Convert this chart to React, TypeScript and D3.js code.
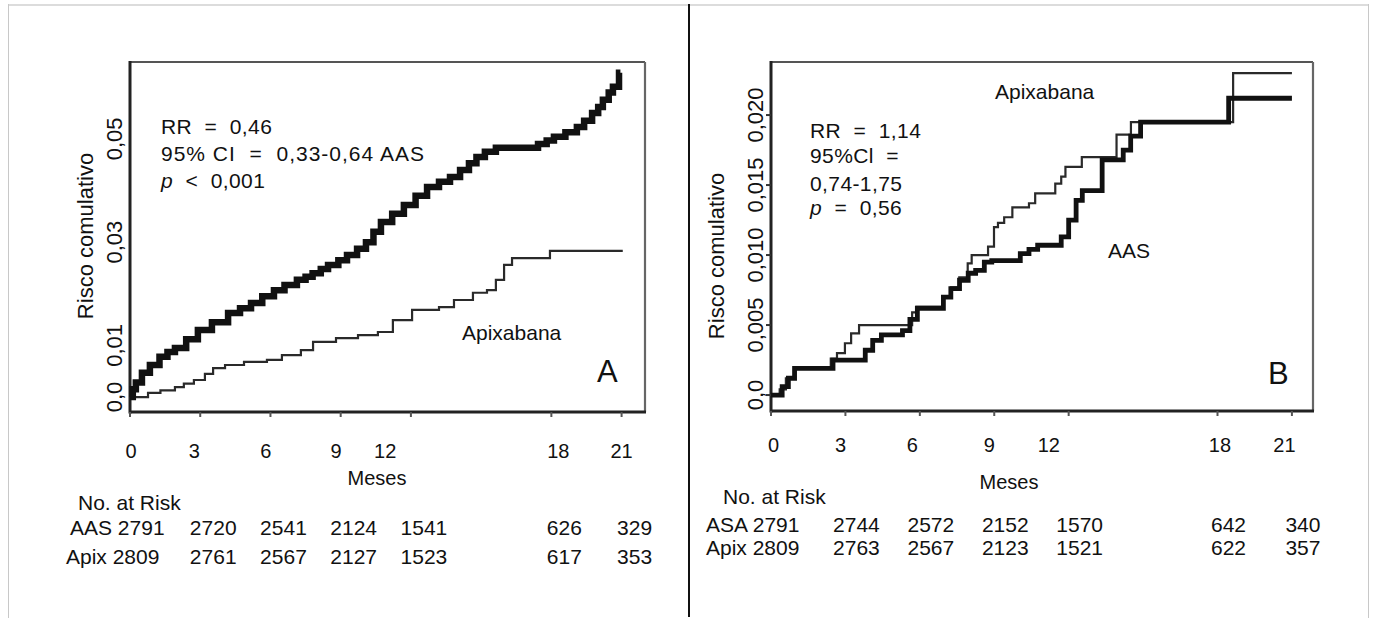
import React from 'react';
import * as d3 from 'd3';

// ---------- Data ----------
const tickMonths = [0, 3, 6, 9, 12, 18, 21];
const tickLabels = ['0', '3', '6', '9', '12', '18', '21'];
// where each month label sits (months)
const tickLabelAtA = [0.05, 2.75, 5.8, 8.8, 10.9, 18.3, 21.0];
const tickLabelAtB = [0.1, 2.8, 5.7, 8.8, 11.2, 18.1, 20.7];

const yTicksA = [0, 0.01, 0.03, 0.05];
const yTickLabelsA = ['0,0', '0,01', '0,03', '0,05'];
const yTicksB = [0, 0.005, 0.01, 0.015, 0.02];
const yTickLabelsB = ['0,0', '0,005', '0,010', '0,015', '0,020'];

// Panel A — AAS (thick)
const aasMonthsA = [0, 0.12, 0.25, 0.51, 0.85, 1.26, 1.6, 1.92, 2.4, 2.9, 3.5, 4.19, 4.7, 5.17, 5.65, 6.15, 6.6, 7.13, 7.5, 7.8, 8.15, 8.46, 8.9, 9.27, 9.7, 10.08, 10.4, 10.72, 11.2, 11.7, 12.2, 12.69, 13.2, 13.67, 14.1, 14.48, 14.8, 15.16, 15.63, 17.43, 17.8, 18.11, 18.6, 19.09, 19.4, 19.74, 20.0, 20.2, 20.45, 20.63, 20.89, 20.95];
const aasValuesA = [0, 0.0015, 0.0028, 0.0047, 0.0062, 0.0078, 0.0087, 0.0095, 0.0112, 0.013, 0.0145, 0.0163, 0.0172, 0.0182, 0.0195, 0.0207, 0.0217, 0.0227, 0.0233, 0.024, 0.0248, 0.0256, 0.0265, 0.0275, 0.0287, 0.03, 0.032, 0.0339, 0.0355, 0.0372, 0.039, 0.0407, 0.0417, 0.0426, 0.044, 0.0453, 0.0465, 0.0475, 0.0483, 0.049, 0.0497, 0.0504, 0.0513, 0.0523, 0.0535, 0.055, 0.0562, 0.0576, 0.059, 0.0601, 0.0628, 0.0628];
// Panel A — Apixabana (thin)
const apixMonthsA = [0, 0.77, 1.3, 1.92, 2.3, 2.73, 3.2, 3.55, 4.06, 4.87, 5.85, 6.49, 7.3, 7.82, 8.8, 9.74, 10.59, 11.23, 12.05, 13.2, 13.84, 14.65, 15.25, 15.63, 15.98, 16.32, 17.94, 21.05];
const apixValuesA = [0, 0.0008, 0.0013, 0.0019, 0.0026, 0.0033, 0.0045, 0.0056, 0.0062, 0.0068, 0.0072, 0.0081, 0.0091, 0.0107, 0.0114, 0.012, 0.0126, 0.0149, 0.0169, 0.0174, 0.0188, 0.0202, 0.0207, 0.0227, 0.0256, 0.0269, 0.0283, 0.0283];

// Panel B — AAS (thick)
const aasMonthsB = [0, 0.45, 0.7, 0.95, 2.5, 3.8, 4.1, 4.45, 5.3, 5.6, 5.9, 6.95, 7.25, 7.6, 7.95, 8.25, 8.6, 8.9, 10.05, 10.4, 10.75, 11.7, 12.0, 12.3, 12.55, 13.35, 14.2, 14.5, 14.9, 18.45, 21.0];
const aasValuesB = [0, 0.0006, 0.0012, 0.0019, 0.0025, 0.0032, 0.0039, 0.0043, 0.0046, 0.0054, 0.0062, 0.007, 0.0076, 0.0082, 0.0087, 0.0089, 0.0095, 0.0096, 0.0101, 0.0104, 0.0107, 0.0113, 0.0125, 0.0139, 0.0146, 0.0168, 0.0175, 0.0185, 0.0195, 0.0212, 0.0212];
// Panel B — Apixabana (thin)
const apixMonthsB = [0, 0.35, 0.6, 0.93, 2.41, 2.66, 2.98, 3.23, 3.55, 5.69, 5.87, 6.94, 7.26, 7.59, 7.93, 8.09, 8.75, 8.99, 9.15, 9.4, 9.73, 10.4, 10.65, 11.46, 11.7, 11.87, 12.53, 13.93, 14.51, 18.63, 21.0];
const apixValuesB = [0, 0.0004, 0.0012, 0.0019, 0.0026, 0.003, 0.0037, 0.0044, 0.005, 0.0059, 0.0063, 0.007, 0.0077, 0.0084, 0.0094, 0.01, 0.0106, 0.012, 0.0123, 0.0127, 0.0134, 0.0137, 0.0144, 0.0151, 0.0156, 0.0163, 0.017, 0.0186, 0.0195, 0.023, 0.023];

// Numbers at risk
const riskMonths = [0, 3, 6, 9, 12, 18, 21];
const riskAasA = ['2791', '2720', '2541', '2124', '1541', '626', '329'];
const riskApixA = ['2809', '2761', '2567', '2127', '1523', '617', '353'];
const riskAsaB = ['2791', '2744', '2572', '2152', '1570', '642', '340'];
const riskApixB = ['2809', '2763', '2567', '2123', '1521', '622', '357'];

const FONT = '"Liberation Sans", Arial, Helvetica, sans-serif';

type PanelProps = {
  box: { left: number; right: number; top: number; bottom: number };
  xMax: number;
  yDomain: [number, number];
  yTicks: number[];
  yTickLabels: string[];
  yLabelX: number;
  labelAt: number[];
  tickLabelY: number;
  thick: { m: number[]; v: number[]; w: number };
  thin: { m: number[]; v: number[]; w: number };
  drawYTicks: boolean;
  children?: React.ReactNode;
};

function Panel(p: PanelProps) {
  const x = d3.scaleLinear().domain([0, p.xMax]).range([p.box.left, p.box.right]);
  const y = d3.scaleLinear().domain(p.yDomain).range([p.box.bottom, p.box.top]);
  const line = d3
    .line<[number, number]>()
    .x((d) => x(d[0]))
    .y((d) => y(d[1]))
    .curve(d3.curveStepAfter);
  const thickPts = p.thick.m.map((m, i) => [m, p.thick.v[i]] as [number, number]);
  const thinPts = p.thin.m.map((m, i) => [m, p.thin.v[i]] as [number, number]);
  return (
    <g>
      {/* frame */}
      <line x1={p.box.left} x2={p.box.right} y1={p.box.top} y2={p.box.top} stroke="#555" strokeWidth={2} />
      <line x1={p.box.right} x2={p.box.right} y1={p.box.top} y2={p.box.bottom} stroke="#666" strokeWidth={2.2} />
      <line x1={p.box.left} x2={p.box.left} y1={p.box.top - 1} y2={p.box.bottom + 1.5} stroke="#222" strokeWidth={3} />
      <line x1={p.box.left} x2={p.box.right + 1} y1={p.box.bottom} y2={p.box.bottom} stroke="#222" strokeWidth={3} />
      {/* x ticks */}
      {tickMonths.map((m) => (
        <line key={'xt' + m} x1={x(m)} x2={x(m)} y1={p.box.bottom} y2={p.box.bottom + 5} stroke="#555" strokeWidth={2} />
      ))}
      {p.drawYTicks &&
        p.yTicks.map((t) => (
          <line key={'yt' + t} x1={p.box.left - 5} x2={p.box.left} y1={y(t)} y2={y(t)} stroke="#333" strokeWidth={2} />
        ))}
      {/* curves */}
      <path d={line(thinPts) || ''} fill="none" stroke="#2a2a2a" strokeWidth={p.thin.w} />
      <path d={line(thickPts) || ''} fill="none" stroke="#111" strokeWidth={p.thick.w} strokeLinejoin="miter" />
      {/* y tick labels */}
      {p.yTicks.map((t, i) => (
        <text
          key={'yl' + t}
          transform={`translate(${p.yLabelX},${y(t)}) rotate(-90)`}
          textAnchor="middle"
          dominantBaseline="central"
          fontSize={22}
          fontFamily={FONT}
          fill="#111"
        >
          {p.yTickLabels[i]}
        </text>
      ))}
      {/* x tick labels */}
      {tickLabels.map((l, i) => (
        <text key={'xl' + l} x={x(p.labelAt[i])} y={p.tickLabelY} textAnchor="middle" fontSize={20} fontFamily={FONT} fill="#111">
          {l}
        </text>
      ))}
      {p.children}
    </g>
  );
}

function RiskRow(props: {
  x: d3.ScaleLinear<number, number>;
  label: string;
  values: string[];
  startX: number;
  yBase: number;
  shift: number;
}) {
  const { x, label, values, startX, yBase, shift } = props;
  return (
    <g fontSize={21} fontFamily={FONT} fill="#111">
      <text x={startX} y={yBase} style={{ whiteSpace: 'pre' }}>
        {label + ' ' + values[0]}
      </text>
      {values.slice(1).map((v, i) => (
        <text key={i} x={x(riskMonths[i + 1]) + shift} y={yBase} textAnchor="middle">
          {v}
        </text>
      ))}
    </g>
  );
}

export default function App() {
  const boxA = { left: 130, right: 645, top: 62, bottom: 412 };
  const boxB = { left: 771, right: 1313, top: 62, bottom: 411 };
  const xMaxA = 22;
  const xMaxB = 21.85;
  const xA = d3.scaleLinear().domain([0, xMaxA]).range([boxA.left, boxA.right]);
  const xB = d3.scaleLinear().domain([0, xMaxB]).range([boxB.left, boxB.right]);
  const txt = { fontFamily: FONT, fontSize: 21, fill: '#111' } as const;
  const ann = { fontFamily: FONT, fontSize: 21, fill: '#111', letterSpacing: 0.4 } as const;

  return (
    <svg
      width={1375}
      height={618}
      style={{ position: 'absolute', left: 0, top: 0, display: 'block', background: '#fff' }}
    >
      {/* outer frame */}
      <line x1={8} x2={1368} y1={5} y2={5} stroke="#dcdcdc" strokeWidth={2} />
      <line x1={8.5} x2={8.5} y1={4} y2={618} stroke="#c8c8c8" strokeWidth={1} />
      <line x1={1368.5} x2={1368.5} y1={4} y2={618} stroke="#c8c8c8" strokeWidth={1} />
      <line x1={689} x2={689} y1={4} y2={617} stroke="#111" strokeWidth={2} />

      {/* Panel A */}
      <Panel
        box={boxA}
        xMax={xMaxA}
        yDomain={[-0.0029, 0.0649]}
        yTicks={yTicksA}
        yTickLabels={yTickLabelsA}
        yLabelX={114}
        labelAt={tickLabelAtA}
        tickLabelY={458}
        thick={{ m: aasMonthsA, v: aasValuesA, w: 6.5 }}
        thin={{ m: apixMonthsA, v: apixValuesA, w: 2.2 }}
        drawYTicks={false}
      >
        <text x={161} y={134} {...ann} style={{ whiteSpace: 'pre' }}>{'RR  =  0,46'}</text>
        <text x={161} y={161} {...ann} letterSpacing={1} style={{ whiteSpace: 'pre' }}>{'95% CI  =  0,33-0,64 AAS'}</text>
        <text x={161} y={188} {...ann} style={{ whiteSpace: 'pre' }}>
          <tspan fontStyle="italic">p</tspan>
          {'  <  0,001'}
        </text>
        <text x={462} y={340} {...txt}>Apixabana</text>
        <text x={597} y={382} fontFamily={FONT} fontSize={31} fill="#111">A</text>
      </Panel>
      <text x={377} y={485} textAnchor="middle" fontFamily={FONT} fontSize={20} fill="#111">Meses</text>
      <text transform="translate(85,236) rotate(-90)" textAnchor="middle" dominantBaseline="central" fontFamily={FONT} fontSize={22} fill="#111">
        Risco comulativo
      </text>
      <text x={78} y={510} {...txt}>No. at Risk</text>
      <RiskRow x={xA} label="AAS" values={riskAasA} startX={70} yBase={535} shift={13} />
      <RiskRow x={xA} label="Apix" values={riskApixA} startX={66} yBase={564} shift={13} />

      {/* Panel B */}
      <Panel
        box={boxB}
        xMax={xMaxB}
        yDomain={[-0.00114, 0.02379]}
        yTicks={yTicksB}
        yTickLabels={yTickLabelsB}
        yLabelX={755}
        labelAt={tickLabelAtB}
        tickLabelY={452}
        thick={{ m: aasMonthsB, v: aasValuesB, w: 4.8 }}
        thin={{ m: apixMonthsB, v: apixValuesB, w: 2.2 }}
        drawYTicks={true}
      >
        <text x={995} y={99} {...txt}>Apixabana</text>
        <text x={810} y={138} {...ann} style={{ whiteSpace: 'pre' }}>{'RR  =  1,14'}</text>
        <text x={810} y={163} {...ann} style={{ whiteSpace: 'pre' }}>{'95%Cl  ='}</text>
        <text x={810} y={191} {...ann}>0,74-1,75</text>
        <text x={810} y={215} {...ann} style={{ whiteSpace: 'pre' }}>
          <tspan fontStyle="italic">p</tspan>
          {'  =  0,56'}
        </text>
        <text x={1108} y={258} {...txt}>AAS</text>
        <text x={1268} y={384} fontFamily={FONT} fontSize={31} fill="#111">B</text>
      </Panel>
      <text x={1009} y={489} textAnchor="middle" fontFamily={FONT} fontSize={20} fill="#111">Meses</text>
      <text transform="translate(716,256) rotate(-90)" textAnchor="middle" dominantBaseline="central" fontFamily={FONT} fontSize={22} fill="#111">
        Risco comulativo
      </text>
      <text x={723} y={504} {...txt}>No. at Risk</text>
      <RiskRow x={xB} label="ASA" values={riskAsaB} startX={706} yBase={532} shift={11} />
      <RiskRow x={xB} label="Apix" values={riskApixB} startX={706} yBase={555} shift={11} />
    </svg>
  );
}
